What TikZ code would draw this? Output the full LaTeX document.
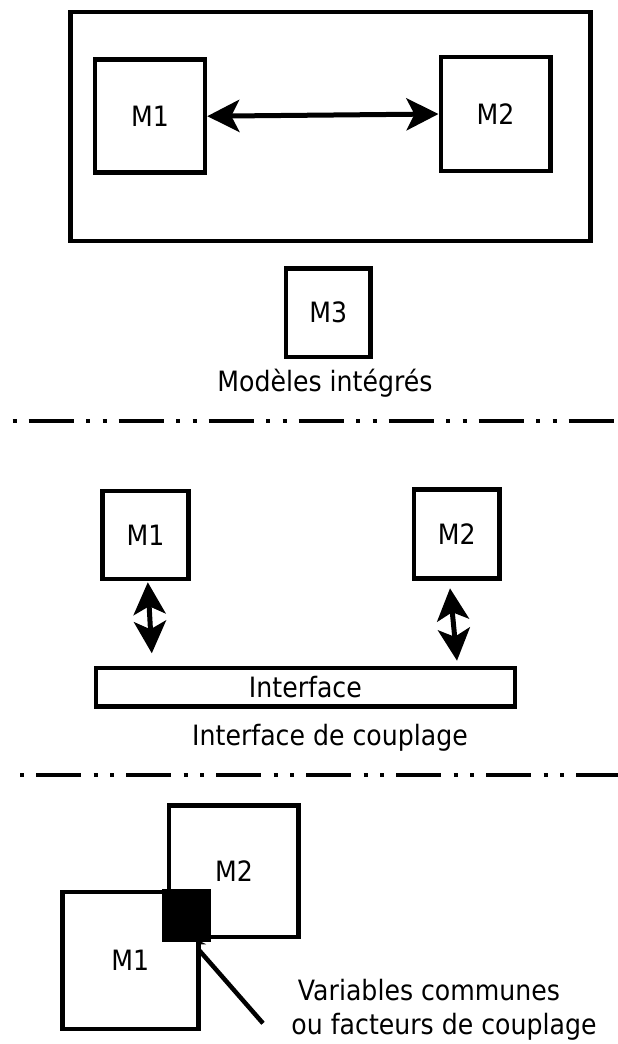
\documentclass[tikz,border=0pt]{standalone}
\usepackage{fontspec}
\setmainfont[FakeStretch=0.9]{DejaVu Sans}
\usepackage{tikz}
\usetikzlibrary{arrows.meta}
\pgfdeclarelayer{background}
\pgfdeclarelayer{foreground}
\pgfsetlayers{background,main,foreground}

\begin{document}
\begin{tikzpicture}[x=1pt, y=-1pt,
					boxnode/.style={rectangle, draw=black, line width=4.5pt, fill=white, inner sep=0pt, font=\fontsize{28}{34}\selectfont},
					textnode/.style={anchor=base, inner sep=0pt, font=\fontsize{28}{34}\selectfont},
					biarrow/.style={line width=5pt, {Stealth[length=32pt,width=32pt,inset=8pt]}-{Stealth[length=32pt,width=32pt,inset=8pt]}},
					sepline/.style={line width=4pt, dash pattern=on 45pt off 12.5pt on 4pt off 12.5pt on 4pt off 12pt, dash phase=74pt},
					]
					\useasboundingbox (0,0) rectangle (618,1044);
					%Nodes: modeles integres
					\node[boxnode, fill=none, minimum width=519.8pt, minimum height=228.7pt] (frame) at (330.5,126.4) {};
					\node[boxnode, minimum width=110pt, minimum height=113pt]     (m1a)   at (150,116.2)   {M1};
					\node[boxnode, minimum width=109.5pt, minimum height=114pt]   (m2a)   at (495.5,114)   {M2};
					\node[boxnode, minimum width=84.7pt, minimum height=88.3pt]   (m3a)   at (328.2,312.8) {M3};
					\node[textnode]                                               (capa)  at (325,391.7)   {Modèles intégrés};
					
					%Nodes: interface de couplage
					\node[boxnode, minimum width=85.9pt, minimum height=87.7pt]   (m1b)   at (145.5,534.9) {M1};
					\node[boxnode, minimum width=85.4pt, minimum height=89pt]     (m2b)   at (456.7,534.2) {M2};
					\node[boxnode, minimum width=419.2pt, minimum height=38.3pt]  (iface) at (305.4,687.2) {Interface};
					\node[textnode]                                               (capb)  at (330,745)     {Interface de couplage};
					\coordinate (a1top) at (147.8,582.3);
					\coordinate (a1bot) at (151.8,653.3);
					\coordinate (a2top) at (450,588.3);
					\coordinate (a2bot) at (457,660.7);
					
					%Nodes: variables communes
					\node[boxnode, minimum width=129.4pt, minimum height=131.7pt] (m2c)   at (233.9,871.2) {M2};
					\node[boxnode, minimum width=136pt, minimum height=136.7pt]   (m1c)   at (130.3,960.4) {M1};
					\node[fill=black, inner sep=0pt, minimum width=49pt, minimum height=53pt] (common) at (186.5,915.5) {};
					\node[textnode]                                               (vara)  at (429,1000)    {Variables communes};
					\node[textnode]                                               (varb)  at (444,1034)    {ou facteurs de couplage};
					\coordinate (tail) at (263,1023.3);
					\coordinate (tip)  at (184.5,933.5);
					
					\begin{pgfonlayer}{background}
					%Lines
					\draw[biarrow] (m1a.east) -- (m2a.west);
					\draw[biarrow] (a1top) -- (a1bot);
					\draw[biarrow] (a2top) -- (a2bot);
					\draw[line width=4.5pt, -{Stealth[length=22pt,width=18pt]}] (tail) -- (tip);
					\end{pgfonlayer}
					
					%Separators
					\draw[sepline] (12.5,421) -- (618,421);
					\draw[sepline] (20,775) -- (618,775);
				\end{tikzpicture}
\end{document}
